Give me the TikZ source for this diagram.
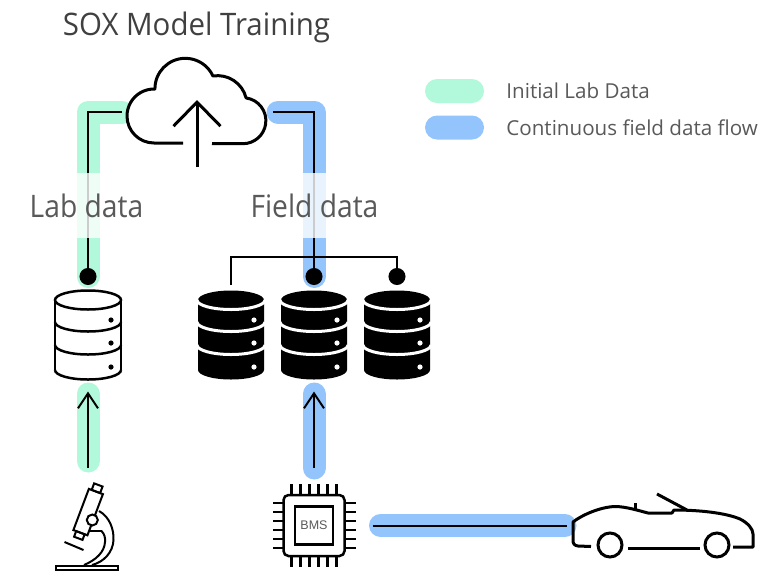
\documentclass[tikz,border=0pt]{standalone}
\usepackage{fontspec}
\setmainfont{Open Sans}
\newfontfamily\titlefont[FakeStretch=0.95]{Open Sans}
\newfontfamily\tagfont[FakeStretch=0.91]{Open Sans}
\newfontfamily\chipfont{Liberation Sans}
\usetikzlibrary{arrows.meta, positioning, calc}

\definecolor{labgreen}{RGB}{178, 248, 218}
\definecolor{fieldblue}{RGB}{148, 196, 252}
\definecolor{titlegray}{RGB}{64, 64, 64}
\definecolor{textgray}{RGB}{89, 89, 89}

\tikzset{
  iconbox/.style={inner sep=0pt, outer sep=0pt},
  band/.style={line width=23pt, line cap=round, line join=round},
  wire/.style={line width=2pt},
  feed/.style={wire, -{Straight Barb[length=15pt, width=20pt]}},
  tap/.style={wire, {Circle[length=17pt]}-},
  tag/.style={fill=white, fill opacity=0.8, text opacity=1, text=textgray, minimum height=65pt, inner xsep=4pt, font=\tagfont\fontsize{31}{36}\selectfont},
  keybar/.style={minimum width=59pt, minimum height=24pt, rounded corners=12pt, inner sep=0pt},
  keytext/.style={anchor=west, inner sep=0pt, text=textgray, font=\fontsize{20.6}{25}\selectfont},
  dbopen/.pic={
    \draw[line width=2.5pt] (0,-35) ellipse [x radius=33, y radius=9.5];
    \draw[line width=2.5pt] (-33,-35) -- (-33,35) (33,-35) -- (33,35);
    \foreach \h in {-13,10,35}
      \draw[line width=2.5pt] (-33,\h) arc[start angle=180, end angle=0, x radius=33, y radius=9.5];
    \foreach \h in {-15,8,32}
      \fill (23,\h) circle (2.6);
  },
  dbsolid/.pic={
    \fill (-33,-35) arc[start angle=180, end angle=360, x radius=33, y radius=9.5]
      -- (33,35) arc[start angle=0, end angle=180, x radius=33, y radius=9.5] -- cycle;
    \foreach \h in {-35,-13,10}
      \draw[white, line width=3pt] (-34,\h) arc[start angle=180, end angle=0, x radius=34, y radius=9.5];
    \foreach \h in {-15,8,32}
      \fill[white] (23,\h) circle (2.6);
  },
}

\begin{document}
\begin{tikzpicture}[x=1pt, y=-1pt]
  \useasboundingbox (0,0) rectangle (779,571);

  % Title
  \node[anchor=base, text=titlegray, font=\titlefont\fontsize{31}{36}\selectfont] (title) at (196.5,35) {SOX Model Training};

  % Legend
  \node[keybar, fill=labgreen] (keylab) at (454.5,91) {};
  \node[keybar, fill=fieldblue] (keyfield) at (454.5,127.5) {};
  \node[keytext, right=22pt of keylab] (keylabtxt) {Initial Lab Data};
  \node[keytext, right=22pt of keyfield] (keyfieldtxt) {Continuous field data flow};

  % Icon places
  \node[iconbox, minimum width=140pt, minimum height=87pt] (cloud) at (196.5,100.5) {};
  \coordinate (cloudL) at (122,112);
  \coordinate (cloudR) at (273,112);
  \node[iconbox, minimum width=66pt, minimum height=89pt] (labdb) at (88,335) {};
  \node[iconbox, minimum width=66pt, minimum height=89pt] (fdb1) at (231,335) {};
  \node[iconbox, minimum width=66pt, minimum height=89pt] (fdb2) at (314,335) {};
  \node[iconbox, minimum width=66pt, minimum height=89pt] (fdb3) at (397,335) {};
  \node[iconbox, minimum width=64pt, minimum height=100pt] (mic) at (88,526) {};
  \node[iconbox, minimum size=83pt] (bms) at (314,525.5) {};
  \node[iconbox, minimum width=182pt, minimum height=66pt] (car) at (663,525.5) {};

  % Highlight bands
  \draw[band, draw=labgreen] ($(labdb.north)+(0,-14)$) |- (cloudL);
  \draw[band, draw=labgreen] ($(mic.north)+(0,-15)$) -- ($(labdb.south)+(0,14.5)$);
  \draw[band, draw=fieldblue] ($(fdb2.north)+(0,-14)$) |- ($(cloudR)+(5,0)$);
  \draw[band, draw=fieldblue] ($(bms.north)+(0,-16)$) -- ($(fdb2.south)+(0,14.5)$);
  \draw[band, draw=fieldblue] ($(bms.east)+(25,0)$) -- ($(car.west)+(-7,0)$);

  % Connectors
  \draw[tap, shorten <=5.5pt] (labdb.north) |- (cloudL);
  \draw[tap, shorten <=5.5pt] (fdb2.north) |- (cloudR);
  \draw[tap, -{Circle[length=17pt]}, shorten <=5.5pt, shorten >=5.5pt] (fdb1.north) -- ++(0,-33.5) -| (fdb3.north);
  \draw[feed, shorten <=8pt, shorten >=12pt] (mic.north) -- (labdb.south);
  \draw[feed, shorten <=16pt, shorten >=12pt] (bms.north) -- (fdb2.south);
  \draw[wire, shorten <=17pt, shorten >=5pt] (bms.east) -- (car.west);

  % Labels over the flows
  \node[tag] (labtag) at (86.5,205.5) {Lab data};
  \node[tag] (fieldtag) at (314.5,205.5) {Field data};

  % Cloud with upload arrow
  \draw[line width=3pt, fill=white, line join=round] (183,143) -- (154,143)
    arc[start angle=90, end angle=272, radius=27]
    arc[start angle=179.4, end angle=335.3, radius=30.4]
    arc[start angle=261, end angle=346, radius=29.4]
    arc[start angle=278, end angle=450, radius=23]
    -- (212,143.5);
  \draw[line width=3pt, -{Straight Barb[length=24pt, width=47pt]}] (197,167) -- (197,100);

  % Databases
  \pic at (labdb) {dbopen};
  \pic at (fdb1) {dbsolid};
  \pic at (fdb2) {dbsolid};
  \pic at (fdb3) {dbsolid};

  % Microscope
  \begin{scope}[line width=2pt]
    \draw (56,565.5) rectangle (118,570);
    \draw (99,511) .. controls (110,517) and (114,530) .. (113.5,540) .. controls (113,552) and (104,562) .. (92,565);
    \draw (101.5,531) .. controls (104.5,534) and (105.5,538) .. (105,542) .. controls (104.5,552) and (96,560) .. (84,565);
    \draw (88,530.5) -- (101.5,530.5);
    \begin{scope}[shift={(78.3,538.3)}, rotate=-20.6]
      \draw[fill=white] (-7.5,-6) rectangle (7.5,-50);
      \draw (-4.5,-50) rectangle (4.5,-57);
      \draw (-4.5,0) rectangle (4.5,-6);
    \end{scope}
    \draw[fill=white] (92.3,520) circle (5.5);
    \draw (64.5,542) -- (83.5,550);
  \end{scope}

  % BMS chip
  \draw[line width=2.5pt, rounded corners=5pt] (283.5,495) rectangle (344.5,556);
  \draw[line width=2.5pt] (295,506.5) rectangle (333,544.5);
  \foreach \d in {-22.5,-13.5,-4.5,4.5,13.5,22.5} {
    \draw[line width=2.2pt] (314+\d,495) -- ++(0,-11) (314+\d,556) -- ++(0,11)
      (283.5,525.5+\d) -- ++(-11,0) (344.5,525.5+\d) -- ++(11,0);
  }
  \node[font=\chipfont\fontsize{12.5}{14}\selectfont, text=textgray] (bmstxt) at (bms) {BMS};

  % Car
  \draw[line width=3pt, line join=round] (591,546.5) -- (578,546) .. controls (574,545.5) and (573,543.5) .. (573,540)
    -- (573,522) .. controls (582,515) and (600,507) .. (615,506.5)
    .. controls (626,506.5) and (640,511) .. (648,513) -- (672,513) -- (674,510)
    .. controls (700,510) and (726,513) .. (740,519) .. controls (748,523) and (753,529) .. (753,534)
    -- (753,547) -- (733,547);
  \draw[line width=3pt] (628,548) -- (700,548);
  \draw[line width=3pt] (610,545) circle (12) (717,545) circle (12);
  \draw[line width=3pt] (657,494) -- (687,510);
  \draw[line width=3pt] (635,503) -- (635,511);
\end{tikzpicture}
\end{document}
